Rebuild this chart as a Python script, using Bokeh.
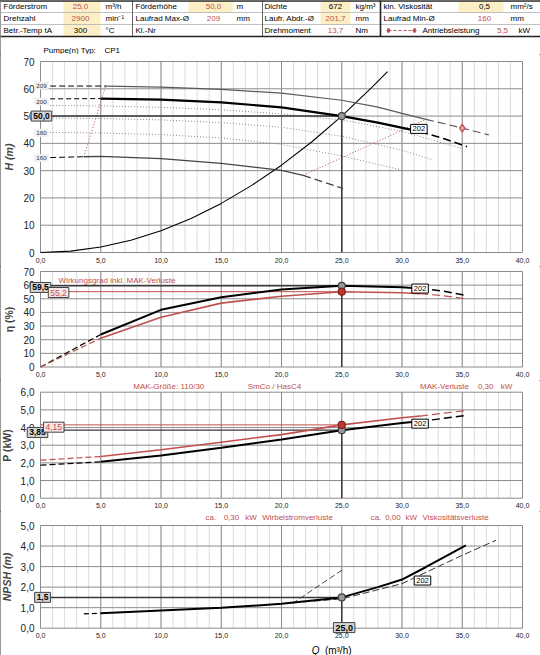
from bokeh.plotting import figure
from bokeh.models import Range1d, Label, SingleIntervalTicker, CustomJSTickFormatter, ColumnDataSource
from bokeh.layouts import column
from bokeh.embed import file_html
from bokeh.resources import INLINE
from bokeh.core.properties import value

FONT = "Liberation Sans"
RED = "#c0504d"
DARK = "#3a3a3a"
W = 540
PPX = 482.0 / 40.0      # pixels per m³/h
X_LEFT = 40.0           # pixel position of Q = 0

# ------------------------------------------------------------------ data
hdr_labels = [["Förderstrom", "Drehzahl", "Betr.-Temp tA"],
              ["Förderhöhe", "Laufrad Max-Ø", "Kl.-Nr"],
              ["Dichte", "Laufr. Abdr.-Ø", "Drehmoment"],
              ["kin. Viskosität", "Laufrad Min-Ø", "Antriebsleistung"]]
hdr_values = [["25,0", "2900", "300"],
              ["50,0", "209", ""],
              ["672", "201,7", "13,7"],
              ["0,5", "160", "5,5"]]
hdr_units = [["m³/h", "min⁻¹", "°C"],
             ["m", "mm", ""],
             ["kg/m³", "mm", "Nm"],
             ["mm²/s", "mm", "kW"]]
hdr_value_colors = [[RED, RED, "black"],
                    [RED, RED, "black"],
                    ["black", RED, RED],
                    ["black", RED, RED]]
pump_type = "CP1"

q_ticks_major = [0, 5, 10, 15, 20, 25, 30, 35, 40]
q_ticks_minor = list(range(0, 41))

op_Q = 25.0
op_H = 50.0
op_eta = 59.5
op_eta_mak = 55.2
op_P = 3.85
op_P_mak = 4.15
op_NPSH = 1.5
drive_Q = 35.0
drive_H = 45.6

# H(Q) curves
d209_left_q = [0.8, 5.5]
d209_left_h = [61.0, 61.0]
d209_q = [5.5, 10, 15, 20, 25, 28, 30, 32]
d209_h = [61.0, 60.6, 59.8, 58.4, 55.8, 53.3, 51.0, 48.8]
d209_right_q = [32, 35, 37.2]
d209_right_h = [48.8, 45.6, 43.1]

d202_left_q = [0.8, 5]
d202_left_h = [56.3, 56.4]
d202_q = [5, 10, 15, 20, 25, 28, 31.5]
d202_h = [56.4, 56.0, 55.0, 53.2, 50.0, 47.6, 44.3]
d202_right_q = [31.5, 33.5, 35.4]
d202_right_h = [44.3, 41.7, 38.8]

d200_q = [0.8, 5, 10, 15, 20, 25, 30, 34.9]
d200_h = [53.9, 53.7, 53.2, 52.3, 50.8, 48.6, 44.4, 38.2]
d190_q = [0.8, 5, 10, 15, 20, 25, 30, 32.6]
d190_h = [49.3, 49.1, 48.6, 47.6, 45.9, 42.6, 37.5, 33.9]
d180_q = [0.8, 5, 10, 15, 20, 25, 30]
d180_h = [44.0, 43.8, 43.2, 42.0, 39.6, 35.4, 30.2]

d160_left_q = [0.8, 3.6]
d160_left_h = [34.8, 35.1]
d160_q = [3.6, 5, 10, 15, 20, 21.8]
d160_h = [35.1, 35.2, 34.4, 32.7, 30.1, 28.3]
d160_right_q = [21.8, 25.1]
d160_right_h = [28.3, 23.5]

qmin_q = [3.6, 5.4]
qmin_h = [35.1, 60.9]
qmax_q = [21.8, 32.0]
qmax_h = [28.3, 48.8]

sys_q = [0, 2.5, 5, 7.5, 10, 12.5, 15, 17.5, 20, 22.5, 25, 27.5, 28.8]
sys_h = [0, 0.5, 2.0, 4.5, 8.0, 12.5, 18.0, 24.5, 32.0, 40.5, 50.0, 60.5, 66.3]

dia_labels = ["209", "200", "180", "160"]
dia_label_h = [61.2, 55.3, 43.9, 34.6]

# efficiency
eta_dash_q = [0, 5]
eta_dash = [0, 23.8]
eta_q = [5, 10, 15, 20, 25, 30, 31.5]
eta = [23.8, 41.9, 51.2, 56.8, 59.5, 58.4, 57.6]
eta_end_q = [31.5, 33.5, 35.3]
eta_end = [57.6, 55.6, 52.4]
etam_dash = [0, 21.1]
etam = [21.1, 36.5, 46.8, 51.9, 55.2, 54.4, 53.7]
etam_end = [53.7, 52.2, 50.0]

# power
pw_dash_q = [0, 5]
pw_dash = [1.87, 2.06]
pw_q = [5, 10, 15, 20, 25, 30, 31.5]
pw = [2.06, 2.42, 2.85, 3.32, 3.85, 4.25, 4.35]
pw_end_q = [31.5, 35.3]
pw_end = [4.35, 4.68]
pwm_dash = [2.15, 2.36]
pwm = [2.36, 2.74, 3.17, 3.60, 4.15, 4.55, 4.65]
pwm_end = [4.65, 4.96]

# NPSH
npsh_dash_q = [3.6, 5]
npsh_dash = [0.70, 0.73]
npsh_q = [5, 10, 15, 20, 25, 28, 30, 32, 35.3]
npsh = [0.73, 0.86, 0.99, 1.19, 1.50, 2.00, 2.37, 2.98, 4.03]
npsh2_q = [21.0, 25, 30, 35, 37.8]
npsh2 = [1.24, 1.43, 2.17, 3.55, 4.28]
npsh3_q = [20.9, 25.2]
npsh3 = [1.20, 2.90]

mak_texts = ["MAK-Größe: 110/30", "SmCo / HasC4", "MAK-Verluste", "0,30", "kW"]
mak_text_q = [7.7, 17.2, 31.5, 36.3, 38.2]
loss_texts = ["ca.", "0,30", "kW", "Wirbelstromverluste", "ca.", "0,00", "kW", "Viskositätsverluste"]
loss_text_q = [13.7, 15.2, 17.0, 18.4, 27.4, 28.6, 30.3, 31.7]

# ------------------------------------------------------------------ helpers

def base_plot(top_ref, bottom_ref, ftop, fbot, ymax, ystep, ylabel, ydec, style="bold"):
    """Figure whose frame is the whole canvas; the data box sits at the given pixel rows."""
    h = int(round(bottom_ref - top_ref))
    ppu = (fbot - ftop) / ymax
    y0 = (fbot - bottom_ref) / ppu
    y1 = (fbot - top_ref) / ppu
    x0 = -X_LEFT / PPX
    x1 = (W - X_LEFT) / PPX
    p = figure(width=W, height=h, x_range=Range1d(x0, x1), y_range=Range1d(y0, y1),
               output_backend="svg", toolbar_location=None, min_border=0)
    p.background_fill_color = "white"
    p.border_fill_color = "white"
    p.outline_line_color = None
    p.grid.visible = False
    yticks = [ystep * i for i in range(int(round(ymax / ystep)) + 1)]
    p.segment(x0=q_ticks_minor, y0=[0] * len(q_ticks_minor), x1=q_ticks_minor, y1=[ymax] * len(q_ticks_minor),
              line_color="#dcdcdc", line_width=1)
    p.segment(x0=[0] * len(yticks), y0=yticks, x1=[40] * len(yticks), y1=yticks,
              line_color="#8c8c8c", line_width=1)
    p.segment(x0=q_ticks_major, y0=[0] * len(q_ticks_major), x1=q_ticks_major, y1=[ymax] * len(q_ticks_major),
              line_color="#8c8c8c", line_width=1)
    p.xaxis.fixed_location = 0
    p.yaxis.fixed_location = 0
    p.xaxis.bounds = (0, 40)
    p.yaxis.bounds = (0, ymax)
    p.xaxis.ticker = SingleIntervalTicker(interval=5, num_minor_ticks=0)
    p.yaxis.ticker = SingleIntervalTicker(interval=ystep, num_minor_ticks=0)
    p.xaxis.formatter = CustomJSTickFormatter(code="return tick.toFixed(1).replace('.', ',');")
    p.yaxis.formatter = CustomJSTickFormatter(code="return tick.toFixed(%d).replace('.', ',');" % ydec)
    for ax in (p.xaxis[0], p.yaxis[0]):
        ax.axis_line_color = None
        ax.major_tick_line_color = None
        ax.minor_tick_line_color = None
        ax.major_tick_out = 0
        ax.major_tick_in = 0
        ax.minor_tick_out = 0
        ax.minor_tick_in = 0
        ax.major_label_text_font = FONT
        ax.major_label_text_color = "#222222"
    p.xaxis.major_label_text_font_size = "7px"
    p.xaxis.major_label_standoff = 5
    p.yaxis.major_label_text_font_size = "10px"
    p.yaxis.major_label_standoff = 6
    p.yaxis.axis_label = ylabel
    p.yaxis.axis_label_text_font = FONT
    p.yaxis.axis_label_text_font_size = "10.5px"
    p.yaxis.axis_label_text_font_style = style
    p.yaxis.axis_label_standoff = 5
    return p


def box(p, x, y, text, color="black", bg="white", border="black", size=7, bold=False, align="center"):
    p.add_layout(Label(x=x, y=y, text=text, text_font=FONT, text_font_size=f"{size}px",
                       text_color=color, text_align=align, text_baseline="middle",
                       background_fill_color=bg, border_line_color=border, border_line_width=1,
                       padding=2, text_font_style="bold" if bold else "normal"))


def txt(p, x, y, text, color=RED, size=8, align="left", style="normal"):
    p.add_layout(Label(x=x, y=y, text=text, text_font=FONT, text_font_size=f"{size}px",
                       text_color=color, text_align=align, text_baseline="middle",
                       text_font_style=style))


def opmark(p, x, y, fill="#9a9a9a", line="#404040"):
    p.scatter([x], [y], size=7, fill_color=fill, line_color=line, line_width=1.2)

# ------------------------------------------------------------------ header
hp = figure(width=W, height=54, x_range=Range1d(0, 540), y_range=Range1d(54, 0),
            output_backend="svg", toolbar_location=None, min_border=0)
hp.axis.visible = False
hp.grid.visible = False
hp.outline_line_color = None
hp.background_fill_color = "white"

hp.quad(left=[63, 63, 63, 188, 320, 320, 458], right=[100, 100, 100, 232, 350, 350, 503],
        top=[0.5, 12, 24, 0.5, 0.5, 12, 0.5], bottom=[12, 24, 36, 12, 12, 24, 12],
        fill_color="#fcefc6", line_color=None)
hp.segment(x0=[0, 0], y0=[12, 24], x1=[540, 540], y1=[12, 24], line_color="#b0b0b0", line_width=0.8)
hp.segment(x0=[132, 262], y0=[0, 0], x1=[132, 262], y1=[36, 36], line_color="#555555", line_width=0.9)
hp.segment(x0=[380], y0=[0], x1=[380], y1=[36], line_color="#222222", line_width=1.6)
hp.segment(x0=[0, 0], y0=[0.6, 36], x1=[540, 540], y1=[0.6, 36], line_color="#222222", line_width=1.5)

lab_x = [3, 135, 264, 383]
val_x = [80, 213, 335, 484]
unit_x = [105, 236, 355, 510]
tx, ty, tt, tc, ta = [], [], [], [], []
for c in range(4):
    for r in range(3):
        yy = 6 + 12 * r
        lx = 422 if (c == 3 and r == 2) else lab_x[c]
        tx.append(lx); ty.append(yy); tt.append(hdr_labels[c][r]); tc.append("black"); ta.append("left")
        if hdr_values[c][r]:
            vx = 502 if (c == 3 and r == 2) else val_x[c]
            tx.append(vx); ty.append(yy); tt.append(hdr_values[c][r]); tc.append(hdr_value_colors[c][r]); ta.append("center")
        if hdr_units[c][r]:
            ux = 518 if (c == 3 and r == 2) else unit_x[c]
            tx.append(ux); ty.append(yy); tt.append(hdr_units[c][r]); tc.append("black"); ta.append("left")
hsrc = ColumnDataSource(dict(x=tx, y=ty, text=tt, color=tc, align=ta))
hp.text(x="x", y="y", text="text", text_color="color", text_align="align", source=hsrc,
        text_font=value(FONT), text_font_size="8px", text_baseline="middle")
hp.line([388, 414], [30, 30], line_color=RED, line_dash="3 2", line_width=1)
hp.scatter([388, 414], [30, 30], marker="diamond", size=5, fill_color=RED, line_color=RED)
hp.text(x=[43, 104], y=[50, 50], text=["Pumpe(n) Typ:", pump_type], text_font=value(FONT),
        text_font_size="8px", text_baseline="middle", text_color="black")

# ------------------------------------------------------------------ H plot
p1 = base_plot(54, 266, 61, 252, 70, 10, "H (m)", 0, "bold italic")
p1.line(sys_q, sys_h, line_color="black", line_width=1.1)
for q, h in ((d200_q, d200_h), (d190_q, d190_h), (d180_q, d180_h)):
    p1.line(q, h, line_color="#8a8a8a", line_width=1, line_dash="1 2")
p1.line(qmin_q, qmin_h, line_color=RED, line_width=1, line_dash="1 2")
p1.line(qmax_q, qmax_h, line_color=RED, line_width=1, line_dash="1 2")
p1.line([0, op_Q], [op_H, op_H], line_color=DARK, line_width=1.5)
p1.line([op_Q, op_Q], [0, op_H], line_color=DARK, line_width=1.5)
p1.line(d209_left_q, d209_left_h, line_color="black", line_width=1, line_dash="6 3")
p1.line(d209_q, d209_h, line_color="#5a5a5a", line_width=1.2)
p1.line(d209_right_q, d209_right_h, line_color="#5a5a5a", line_width=1.2, line_dash="8 4")
p1.line(d202_left_q, d202_left_h, line_color="black", line_width=1, line_dash="5 3")
p1.line(d202_q, d202_h, line_color="black", line_width=2.2)
p1.line(d202_right_q, d202_right_h, line_color="black", line_width=1.6, line_dash="8 4")
p1.line(d160_left_q, d160_left_h, line_color="black", line_width=1, line_dash="6 3")
p1.line(d160_q, d160_h, line_color="#444444", line_width=1.3)
p1.line(d160_right_q, d160_right_h, line_color="#444444", line_width=1.3, line_dash="8 4")
p1.scatter([drive_Q], [drive_H], marker="diamond", size=8, fill_color="#e9a3a3", line_color=RED, line_width=1.2)
opmark(p1, op_Q, op_H)
for t, h in zip(dia_labels, dia_label_h):
    box(p1, 0.08, h, t, color="#333333", bg="#f0f0f0", border=None, size=6.2)
box(p1, 0.08, op_H, "50,0", bg="#d4d4d4", border="#444444", size=8.5, bold=True)
box(p1, 31.4, 45.3, "202", size=7.5)

# ------------------------------------------------------------------ efficiency plot
p2 = base_plot(266, 380, 271, 366.5, 70, 10, "η (%)", 0, "bold")
p2.line([0, op_Q], [op_eta, op_eta], line_color=DARK, line_width=1.5)
p2.line([0, op_Q], [op_eta_mak, op_eta_mak], line_color=RED, line_width=1)
p2.line([op_Q, op_Q], [0, op_eta], line_color=DARK, line_width=1.5)
p2.line(eta_dash_q, eta_dash, line_color="black", line_width=1.2, line_dash="6 3")
p2.line(eta_q, eta, line_color="black", line_width=2)
p2.line(eta_end_q, eta_end, line_color="black", line_width=1.5, line_dash="8 4")
p2.line(eta_dash_q, etam_dash, line_color=RED, line_width=1.2, line_dash="6 3")
p2.line(eta_q, etam, line_color=RED, line_width=1.6)
p2.line(eta_end_q, etam_end, line_color=RED, line_width=1.2, line_dash="8 4")
opmark(p2, op_Q, op_eta)
opmark(p2, op_Q, op_eta_mak, fill="#c0392b", line="#7a1f1f")
box(p2, 0.0, 58.3, "59,5", bg="#d4d4d4", border="#444444", size=8.5, bold=True)
box(p2, 1.5, 54.6, "55,2", color=RED, bg="#f6e6e6", border="#444444", size=8.5)
txt(p2, 1.5, 63.4, "Wirkungsgrad inkl. MAK-Verluste", size=8)
box(p2, 31.5, 57.5, "202", size=7.5)

# ------------------------------------------------------------------ power plot
p3 = base_plot(380, 511, 391.7, 497.7, 6, 1, "P (kW)", 1, "bold")
p3.line([0, op_Q], [op_P_mak, op_P_mak], line_color=RED, line_width=1)
p3.line([0, op_Q], [op_P, op_P], line_color=DARK, line_width=1.3)
p3.line([op_Q, op_Q], [0, op_P_mak], line_color=DARK, line_width=1.5)
p3.line(pw_dash_q, pw_dash, line_color="black", line_width=1.2, line_dash="6 3")
p3.line(pw_q, pw, line_color="black", line_width=2)
p3.line(pw_end_q, pw_end, line_color="black", line_width=1.4, line_dash="8 4")
p3.line(pw_dash_q, pwm_dash, line_color=RED, line_width=1.2, line_dash="6 3")
p3.line(pw_q, pwm, line_color=RED, line_width=1.6)
p3.line(pw_end_q, pwm_end, line_color=RED, line_width=1.2, line_dash="8 4")
opmark(p3, op_Q, op_P)
opmark(p3, op_Q, op_P_mak, fill="#c0392b", line="#7a1f1f")
box(p3, -0.25, 3.72, "3,85", bg="#d4d4d4", border="#444444", size=8.5, bold=True)
box(p3, 1.1, 4.02, "4,15", color=RED, bg="#f6e6e6", border="#444444", size=8.5)
box(p3, 31.5, 4.22, "202", size=7.5)
for t, q in zip(mak_texts, mak_text_q):
    txt(p3, q, 6.32, t, size=8)

# ------------------------------------------------------------------ NPSH plot
p4 = base_plot(511, 655, 525, 627.7, 5, 1, "NPSH (m)", 1, "bold italic")
p4.line([0, op_Q], [op_NPSH, op_NPSH], line_color=DARK, line_width=1.5)
p4.line([op_Q, op_Q], [0, op_NPSH], line_color=DARK, line_width=1.5)
p4.line(npsh3_q, npsh3, line_color="#333333", line_width=0.9, line_dash="6 3")
p4.line(npsh2_q, npsh2, line_color="#333333", line_width=1, line_dash="7 3")
p4.line(npsh_dash_q, npsh_dash, line_color="black", line_width=1.2, line_dash="5 3")
p4.line(npsh_q, npsh, line_color="black", line_width=2)
opmark(p4, op_Q, op_NPSH)
box(p4, 0.17, op_NPSH, "1,5", bg="#d4d4d4", border="#444444", size=8.5, bold=True)
box(p4, 31.7, 2.32, "202", size=7.5)
box(p4, op_Q + 0.2, 0.03, "25,0", bg="#d4d4d4", border="#444444", size=9, bold=True)
for t, q in zip(loss_texts, loss_text_q):
    txt(p4, q, 5.4, t, size=8)
txt(p4, 22.5, -1.09, "Q", color="black", size=10, style="italic")
txt(p4, 23.6, -1.09, "(m³/h)", color="black", size=10)

layout = column(hp, p1, p2, p3, p4, spacing=0,
                styles={"outline": "1.5px solid #333333", "outline-offset": "-1.5px"})
open("out.html", "w").write(file_html(layout, INLINE))
